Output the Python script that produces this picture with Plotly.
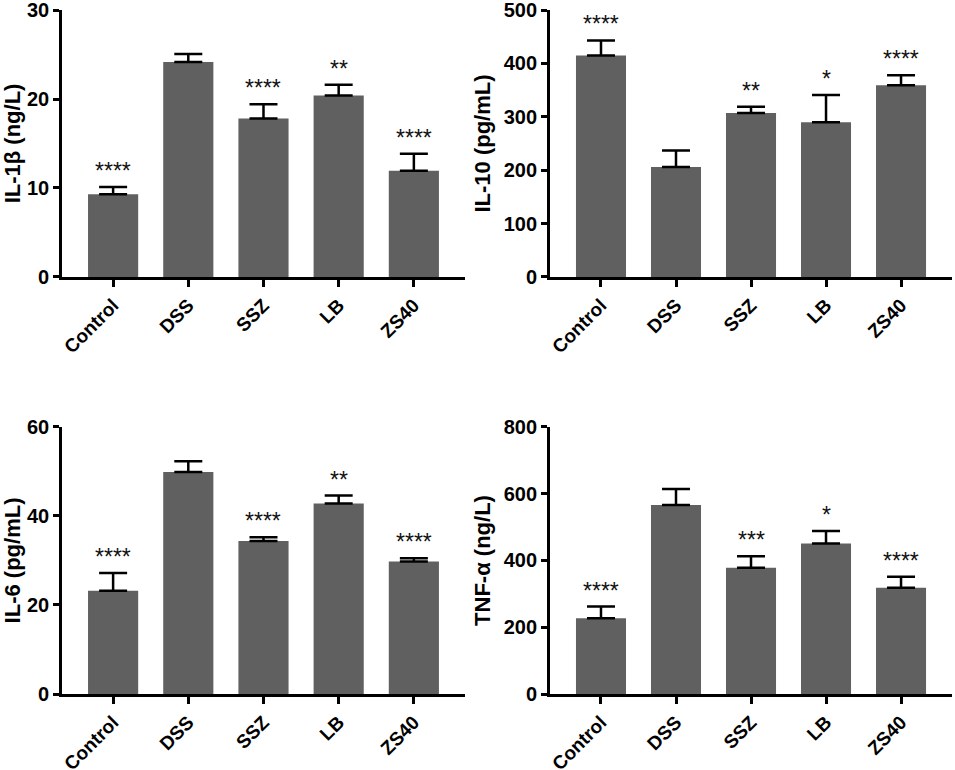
import plotly.graph_objects as go
from plotly.subplots import make_subplots

groups = ["Control", "DSS", "SSZ", "LB", "ZS40"]

il1b = [9.3, 24.15, 17.8, 20.4, 11.95]
il1b_err = [0.8, 0.9, 1.6, 1.2, 1.9]
il1b_sig = ["****", "", "****", "**", "****"]

il10 = [415, 206, 307, 290, 359]
il10_err = [28, 31, 12, 51, 19]
il10_sig = ["****", "", "**", "*", "****"]

il6 = [23.2, 49.9, 34.4, 42.8, 29.8]
il6_err = [4.0, 2.4, 0.8, 1.8, 0.7]
il6_sig = ["****", "", "****", "**", "****"]

tnf = [227, 566, 378, 451, 318]
tnf_err = [35, 48, 35, 37, 33]
tnf_sig = ["****", "", "***", "*", "****"]

panels = [
    (il1b, il1b_err, il1b_sig, "IL-1β (ng/L)", [0, 30], 10),
    (il10, il10_err, il10_sig, "IL-10 (pg/mL)", [0, 500], 100),
    (il6, il6_err, il6_sig, "IL-6 (pg/mL)", [0, 60], 20),
    (tnf, tnf_err, tnf_sig, "TNF-α (ng/L)", [0, 800], 200),
]

bar_color = "#606060"
font = "Liberation Sans, Arial, sans-serif"

fig = make_subplots(rows=2, cols=2)

xdom = [[0.0649, 0.4869], [0.5759, 0.9969]]
ydom = [[0.6403, 0.987], [0.0987, 0.4455]]

for i, (vals, errs, sig, title, yr, dt) in enumerate(panels):
    r, c = i // 2 + 1, i % 2 + 1
    fig.add_trace(go.Bar(
        x=groups, y=vals, width=0.667, marker_color=bar_color,
        marker_line_width=0,
        error_y=dict(type="data", symmetric=False, array=errs,
                     arrayminus=[0] * len(errs), color="black",
                     thickness=2.5, width=14),
        showlegend=False), row=r, col=c)
    n = "" if i == 0 else str(i + 1)
    for g, v, e, s in zip(groups, vals, errs, sig):
        if s:
            fig.add_annotation(x=g, y=v + e, xref="x" + n, yref="y" + n,
                               text=s, showarrow=False, yanchor="bottom",
                               yshift=1, font=dict(family=font, size=23, color="#111"))
    fig.update_xaxes(domain=xdom[c - 1], range=[-0.68, 4.68], row=r, col=c,
                     automargin=False, ticklabeloverflow="allow",
                     showline=True, linecolor="black", linewidth=2.7,
                     ticks="outside", ticklen=7, tickwidth=2.7, tickcolor="black",
                     tickangle=-45, showgrid=False, zeroline=False,
                     tickfont=dict(family=font, size=19, color="black", weight="bold"))
    fig.update_yaxes(domain=ydom[r - 1], range=yr, dtick=dt, row=r, col=c,
                     automargin=False, ticklabeloverflow="allow",
                     showline=True, linecolor="black", linewidth=2.7,
                     ticks="outside", ticklen=6, tickwidth=2.7, tickcolor="black",
                     showgrid=False, zeroline=False,
                     tickfont=dict(family=font, size=20, color="black", weight="bold"),
                     title=dict(text=title, standoff=8,
                                font=dict(family=font, size=22, color="black", weight="bold")))

fig.update_layout(width=955, height=770, margin=dict(l=0, r=0, t=0, b=0),
                  plot_bgcolor="white", paper_bgcolor="white", bargap=0.33)

# page has a default 8px body margin, drop it so the figure sits at 0,0
fig.write_html("out.html", config={"displayModeBar": False},
               post_script="document.body.style.margin = '0';")
